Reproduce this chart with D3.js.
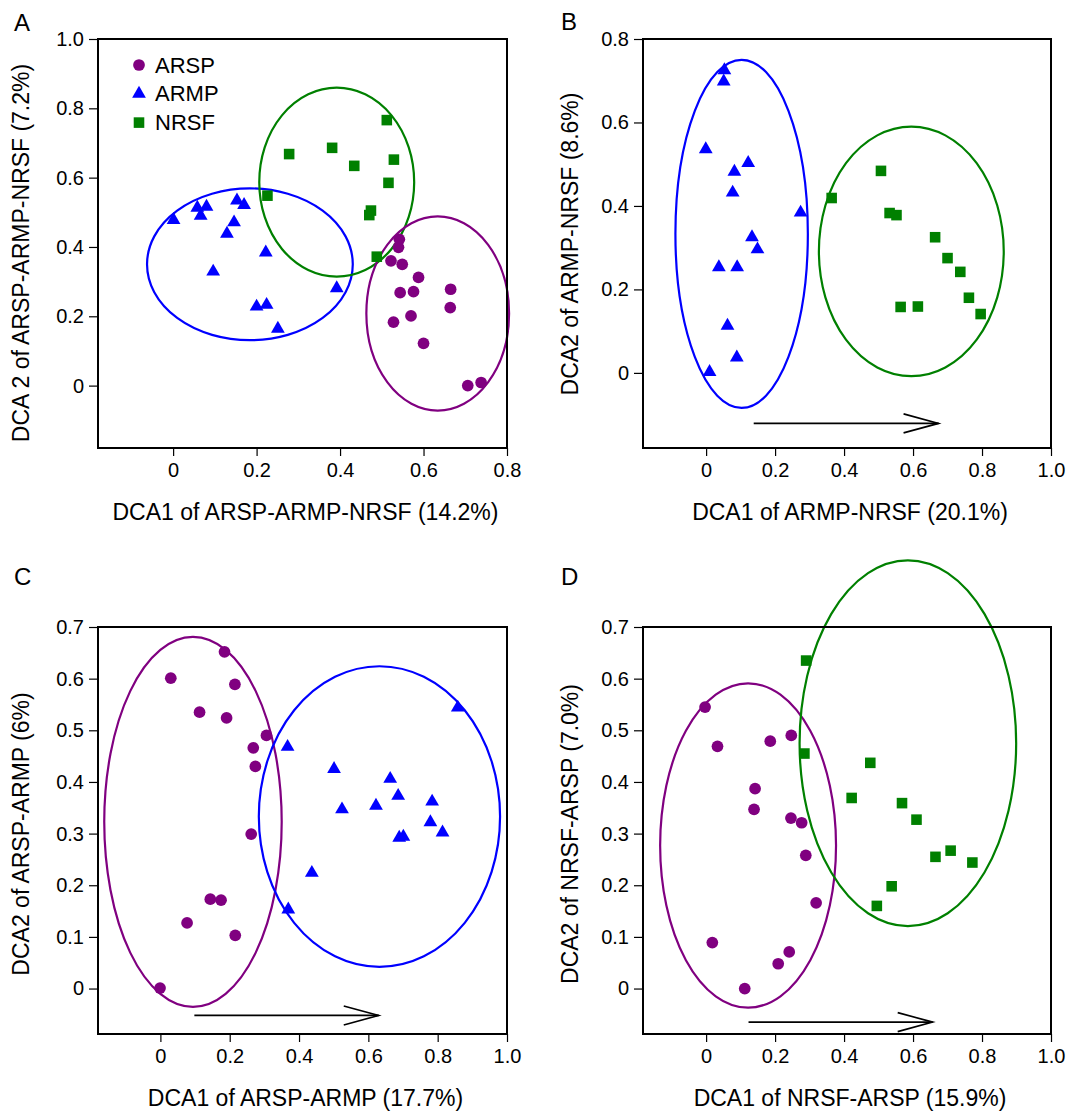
<!DOCTYPE html>
<html><head><meta charset="utf-8">
<script src="https://cdn.jsdelivr.net/npm/d3@7"></script>
<style>
html,body{margin:0;padding:0;background:#fff;}
svg{display:block;font-family:"Liberation Sans",Arial,sans-serif;}
</style></head>
<body><svg id="chart" width="1071" height="1114"></svg>
<script>
// ---------- data ----------
const groups = ["ARSP","ARMP","NRSF"];
const groupColors = ["#800080","#0000ff","#008000"];

const A_ARSP = [[0.542,0.422],[0.540,0.399],[0.522,0.360],[0.549,0.350],[0.588,0.312],[0.544,0.268],[0.576,0.271],[0.665,0.278],[0.664,0.225],[0.570,0.201],[0.528,0.183],[0.600,0.122],[0.706,0.000],[0.738,0.009]];
const A_ARMP = [[0.001,0.478],[0.058,0.513],[0.080,0.516],[0.066,0.490],[0.153,0.534],[0.170,0.521],[0.146,0.471],[0.129,0.438],[0.222,0.384],[0.096,0.329],[0.392,0.281],[0.200,0.228],[0.224,0.233],[0.251,0.164]];
const A_NRSF = [[0.512,0.766],[0.278,0.668],[0.381,0.686],[0.434,0.634],[0.529,0.652],[0.516,0.585],[0.474,0.505],[0.470,0.492],[0.226,0.548],[0.488,0.372]];

const B_ARMP = [[0.053,0.725],[0.051,0.698],[-0.001,0.536],[0.122,0.503],[0.082,0.482],[0.077,0.432],[0.274,0.384],[0.133,0.325],[0.149,0.296],[0.037,0.253],[0.090,0.253],[0.062,0.113],[0.089,0.037],[0.010,0.002]];
const B_NRSF = [[0.507,0.484],[0.364,0.419],[0.532,0.383],[0.552,0.378],[0.664,0.325],[0.700,0.275],[0.737,0.242],[0.762,0.180],[0.796,0.141],[0.564,0.158],[0.614,0.159]];

const C_ARSP = [[0.185,0.652],[0.030,0.601],[0.215,0.589],[0.113,0.535],[0.191,0.524],[0.306,0.490],[0.268,0.466],[0.274,0.430],[0.262,0.299],[0.144,0.173],[0.175,0.171],[0.077,0.127],[0.216,0.103],[-0.001,0.001]];
const C_ARMP = [[0.858,0.544],[0.367,0.468],[0.501,0.425],[0.663,0.406],[0.686,0.373],[0.784,0.362],[0.524,0.347],[0.622,0.354],[0.779,0.322],[0.814,0.302],[0.689,0.292],[0.701,0.294],[0.437,0.224],[0.369,0.153]];

const D_ARSP = [[-0.003,0.545],[0.033,0.469],[0.186,0.479],[0.247,0.490],[0.142,0.387],[0.139,0.347],[0.246,0.330],[0.277,0.321],[0.289,0.258],[0.319,0.166],[0.018,0.089],[0.241,0.071],[0.209,0.048],[0.112,0.000]];
const D_NRSF = [[0.290,0.635],[0.285,0.455],[0.476,0.437],[0.422,0.369],[0.568,0.359],[0.610,0.327],[0.665,0.255],[0.709,0.267],[0.772,0.244],[0.538,0.198],[0.495,0.160]];

// ellipses: [cx, cy, rx, ry] in data units
const A_ELL = {ARMP:[0.184,0.350,0.2465,0.219], NRSF:[0.392,0.587,0.1856,0.2726], ARSP:[0.634,0.208,0.171,0.280]};
const B_ELL = {ARMP:[0.103,0.333,0.192,0.417], NRSF:[0.595,0.291,0.268,0.299]};
const C_ELL = {ARSP:[0.094,0.3227,0.256,0.358], ARMP:[0.632,0.333,0.348,0.291]};
const D_ELL = {ARSP:[0.1217,0.277,0.255,0.314], NRSF:[0.585,0.475,0.314,0.354]};

// arrows: [x0, x1, y]
const B_ARROW = [0.138,0.674,-0.121];
const C_ARROW = [0.098,0.630,-0.052];
const D_ARROW = [0.123,0.657,-0.065];

// axis ticks
const ticksX08 = [0,0.2,0.4,0.6,0.8];
const ticksX10 = [0,0.2,0.4,0.6,0.8,1.0];
const ticksY10 = [0,0.2,0.4,0.6,0.8,1.0];
const ticksY08 = [0,0.2,0.4,0.6,0.8];
const ticksY07 = [0,0.1,0.2,0.3,0.4,0.5,0.6,0.7];

const titles = {
  A:["DCA1 of ARSP-ARMP-NRSF (14.2%)","DCA 2 of ARSP-ARMP-NRSF (7.2%)"],
  B:["DCA1 of ARMP-NRSF (20.1%)","DCA2 of ARMP-NRSF (8.6%)"],
  C:["DCA1 of ARSP-ARMP (17.7%)","DCA2 of ARSP-ARMP (6%)"],
  D:["DCA1 of NRSF-ARSP (15.9%)","DCA2 of NRSF-ARSP (7.0%)"]
};

// ---------- layout ----------
const panels = [
  {id:"A", box:[98,39,507,448], xd:[-0.18,0.8], yd:[-0.18,1.0], xt:ticksX08, yt:ticksY10, ytx:21, yty:253, lx:14, ly:31,
   pts:{ARSP:A_ARSP, ARMP:A_ARMP, NRSF:A_NRSF}, ell:A_ELL, arrow:null, legend:true},
  {id:"B", box:[643,39,1051,448], xd:[-0.183,1.0], yd:[-0.18,0.8], xt:ticksX10, yt:ticksY08, ytx:570, yty:244, lx:561, ly:30,
   pts:{ARMP:B_ARMP, NRSF:B_NRSF}, ell:B_ELL, arrow:B_ARROW},
  {id:"C", box:[98,627,507,1034], xd:[-0.18,1.0], yd:[-0.088,0.7], xt:ticksX10, yt:ticksY07, ytx:21, yty:834, lx:14, ly:585,
   pts:{ARSP:C_ARSP, ARMP:C_ARMP}, ell:C_ELL, arrow:C_ARROW},
  {id:"D", box:[643,627,1051,1034], xd:[-0.183,1.0], yd:[-0.088,0.7], xt:ticksX10, yt:ticksY07, ytx:570, yty:834, lx:561, ly:585,
   pts:{ARSP:D_ARSP, NRSF:D_NRSF}, ell:D_ELL, arrow:D_ARROW}
];

const svg = d3.select("#chart");
const fmt = v => v === 0 ? "0" : d3.format(".1f")(v);
const colorOf = g => groupColors[groups.indexOf(g)];
const symOf = {ARSP:d3.symbol().type(d3.symbolCircle).size(108),
               ARMP:d3.symbol().type(d3.symbolTriangle).size(82),
               NRSF:d3.symbol().type(d3.symbolSquare).size(112)};

panels.forEach(p => {
  const [x0,y0,x1,y1] = p.box;
  const x = d3.scaleLinear().domain(p.xd).range([x0,x1]);
  const y = d3.scaleLinear().domain(p.yd).range([y1,y0]);
  const g = svg.append("g");

  // axes
  const xa = g.append("g").attr("transform",`translate(0,${y1})`)
    .call(d3.axisBottom(x).tickValues(p.xt).tickFormat(fmt).tickSize(8).tickPadding(7).tickSizeOuter(0));
  const ya = g.append("g").attr("transform",`translate(${x0},0)`)
    .call(d3.axisLeft(y).tickValues(p.yt).tickFormat(fmt).tickSize(9).tickPadding(5).tickSizeOuter(0));
  [xa,ya].forEach(a => {
    a.select(".domain").remove();
    a.selectAll("line").attr("stroke","#000").attr("stroke-width",1.2);
    a.selectAll("text").attr("font-size",20).attr("fill","#000").attr("font-family","Liberation Sans, Arial, sans-serif");
  });

  // ellipses
  Object.entries(p.ell).forEach(([k,e]) => {
    g.append("ellipse")
      .attr("cx",x(e[0])).attr("cy",y(e[1]))
      .attr("rx",x(e[0]+e[2])-x(e[0])).attr("ry",y(e[1])-y(e[1]+e[3]))
      .attr("fill","none").attr("stroke",colorOf(k)).attr("stroke-width",2.2);
  });

  // points
  Object.entries(p.pts).forEach(([k,arr]) => {
    g.selectAll(null).data(arr).enter().append("path")
      .attr("d",symOf[k]())
      .attr("transform",d=>`translate(${x(d[0])},${y(d[1])})`)
      .attr("fill",colorOf(k));
  });

  // arrow
  if (p.arrow) {
    const [a0,a1,ay] = p.arrow;
    const yy = y(ay), xs = x(a0), xe = x(a1);
    g.append("line").attr("x1",xs).attr("x2",xe).attr("y1",yy).attr("y2",yy)
      .attr("stroke","#000").attr("stroke-width",1.6);
    g.append("path").attr("d",`M${xe-35},${yy-9.5}L${xe},${yy}L${xe-35},${yy+9.5}`)
      .attr("fill","none").attr("stroke","#000").attr("stroke-width",1.6);
  }

  // box
  g.append("rect").attr("x",x0).attr("y",y0).attr("width",x1-x0).attr("height",y1-y0)
    .attr("fill","none").attr("stroke","#000").attr("stroke-width",2);

  // titles
  g.append("text").attr("x",(x0+x1)/2+3).attr("y",y1+72).attr("text-anchor","middle")
    .attr("font-size",23).text(titles[p.id][0]);
  g.append("text").attr("transform",`translate(${p.ytx},${p.yty}) rotate(-90)`)
    .attr("text-anchor","middle").attr("dominant-baseline","central")
    .attr("font-size",23).text(titles[p.id][1]);
  g.append("text").attr("x",p.lx).attr("y",p.ly).attr("font-size",24).text(p.id);

  // legend
  if (p.legend) {
    groups.forEach((k,i) => {
      const ly = 65 + i*28.8;
      g.append("path").attr("d",symOf[k]()).attr("transform",`translate(139,${ly})`).attr("fill",colorOf(k));
      g.append("text").attr("x",155).attr("y",ly).attr("dominant-baseline","central")
        .attr("font-size",22).text(k);
    });
  }
});
</script></body></html>
